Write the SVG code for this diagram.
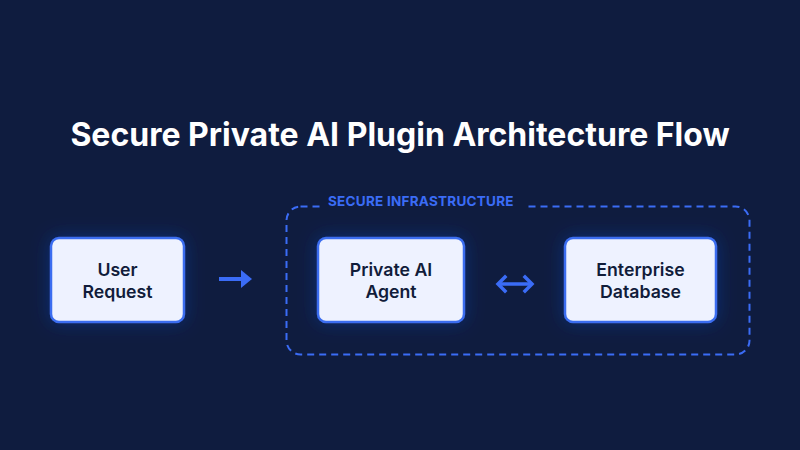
<svg xmlns="http://www.w3.org/2000/svg" width="800" height="450" viewBox="0 0 800 450">
<style>
.node rect{fill:#eef2ff;stroke:#3a6df0;stroke-width:2.5}
.node text{font-family:Inter,"Noto Sans",sans-serif;font-weight:600;font-size:17.7px;fill:#111c3a;text-anchor:middle}
.title{font-family:Inter,"Noto Sans",sans-serif;font-weight:700;font-size:32px;fill:#ffffff;text-anchor:middle}
.lbl{font-family:Inter,"Noto Sans",sans-serif;font-weight:700;font-size:13.5px;fill:#3b6cf6;letter-spacing:0.25px}
.conn{stroke:#3b6cf6;fill:none}
</style>
<defs>
<filter id="shadow" x="-30%" y="-40%" width="160%" height="180%">
<feDropShadow dx="0" dy="0" stdDeviation="9" flood-color="#1e50e0" flood-opacity="0.35"/>
</filter>
</defs>
<rect width="800" height="450" fill="#0f1c3f"/>
<text class="title" x="400" y="146">Secure Private AI Plugin Architecture Flow</text>
<g id="container">
<rect x="286.5" y="206.5" width="463" height="148" rx="14" fill="none" stroke="#3b6cf6" stroke-width="2" stroke-dasharray="7,5"/>
<rect x="320" y="195" width="204" height="20" fill="#0f1c3f"/>
<text class="lbl" x="328" y="206">SECURE INFRASTRUCTURE</text>
</g>
<g id="user-request" class="node">
<rect x="51" y="238" width="133" height="84" rx="8" filter="url(#shadow)"/>
<text x="117.5" y="276">User</text>
<text x="117.5" y="298">Request</text>
</g>
<g id="private-ai-agent" class="node">
<rect x="318" y="238" width="146" height="84" rx="8" filter="url(#shadow)"/>
<text x="391" y="276">Private AI</text>
<text x="391" y="298">Agent</text>
</g>
<g id="enterprise-database" class="node">
<rect x="565" y="238" width="151" height="84" rx="8" filter="url(#shadow)"/>
<text x="640.5" y="276">Enterprise</text>
<text x="640.5" y="298">Database</text>
</g>
<g id="connectors">
<line class="conn" x1="219" y1="279" x2="243" y2="279" stroke-width="4"/>
<polygon points="241,270 252,279 241,288" fill="#3b6cf6"/>
<line class="conn" x1="499" y1="284" x2="531" y2="284" stroke-width="3.5"/>
<polyline class="conn" points="505,277 498,284 505,291" stroke-width="3.5" stroke-linecap="square"/>
<polyline class="conn" points="525,277 532,284 525,291" stroke-width="3.5" stroke-linecap="square"/>
</g>
</svg>
